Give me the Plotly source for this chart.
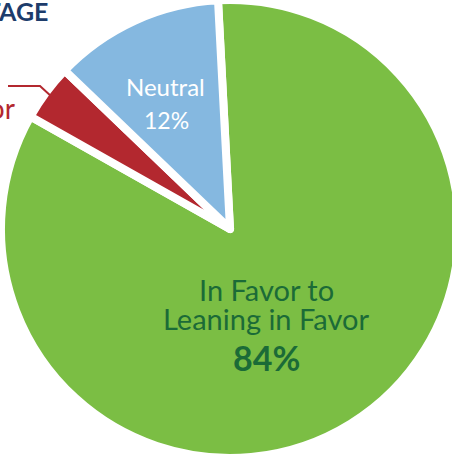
import plotly.graph_objects as go

# Data
labels = ["In Favor to<br>Leaning in Favor", "Not in Favor", "Neutral"]
label_lines = ["In Favor to", "Leaning in Favor"]
values = [84, 4, 12]
pct_labels = ["84%", "4%", "12%"]
colors = ["#7BBE44", "#B3282F", "#85B8E0"]
title_text = "PERCENTAGE"

W, H = 462, 458

def px(x):
    return x / W

def py(y):
    return 1 - y / H

fig = go.Figure()
fig.add_trace(go.Pie(
    labels=labels,
    values=values,
    sort=False,
    direction="clockwise",
    rotation=-3,
    marker=dict(colors=colors, line=dict(color="white", width=8)),
    textinfo="none",
    hoverinfo="none",
    showlegend=False,
    domain=dict(x=[px(1), px(459)], y=[0, 1]),
))

font = "Lato"
green_txt = "#1B6B37"
ann = []
# Green slice label
ann.append(dict(x=px(266), y=py(289), text=label_lines[0], showarrow=False,
                xanchor="center", yanchor="middle", borderpad=0,
                font=dict(family=font, size=29, color=green_txt)))
ann.append(dict(x=px(266), y=py(318), text=label_lines[1], showarrow=False,
                xanchor="center", yanchor="middle", borderpad=0,
                font=dict(family=font, size=29, color=green_txt)))
ann.append(dict(x=px(266), y=py(357), text="<b>" + pct_labels[0] + "</b>", showarrow=False,
                xanchor="center", yanchor="middle",
                font=dict(family=font, size=34, color=green_txt)))
# Neutral label
ann.append(dict(x=px(165), y=py(86), text=labels[2], showarrow=False,
                xanchor="center", yanchor="middle",
                font=dict(family=font, size=24, color="white")))
ann.append(dict(x=px(166), y=py(120), text=pct_labels[2], showarrow=False,
                xanchor="center", yanchor="middle",
                font=dict(family=font, size=23, color="white")))
# Red label (mostly cropped, as in the reference)
ann.append(dict(x=px(17), y=py(108), text=labels[1], showarrow=False,
                xanchor="right", yanchor="middle",
                font=dict(family=font, size=28, color="#B3282F")))
# Title (cropped, as in the reference)
ann.append(dict(x=px(50), y=py(11), text="<b>" + title_text + "</b>", showarrow=False,
                xanchor="right", yanchor="middle",
                font=dict(family=font, size=25, color="#1D3C6B")))

shapes = [dict(type="path", xref="paper", yref="paper",
               path=f"M {px(8)} {py(86)} L {px(40)} {py(86)} L {px(52)} {py(97)}",
               line=dict(color="#B3282F", width=2))]

fig.update_layout(
    width=W, height=H,
    margin=dict(l=0, r=0, t=0, b=0),
    paper_bgcolor="white",
    plot_bgcolor="white",
    annotations=ann,
    shapes=shapes,
)

fig.write_html("out.html",
               config={"displayModeBar": False},
               post_script="document.documentElement.style.overflow='hidden';document.body.style.overflow='hidden';document.body.style.margin='0';")
